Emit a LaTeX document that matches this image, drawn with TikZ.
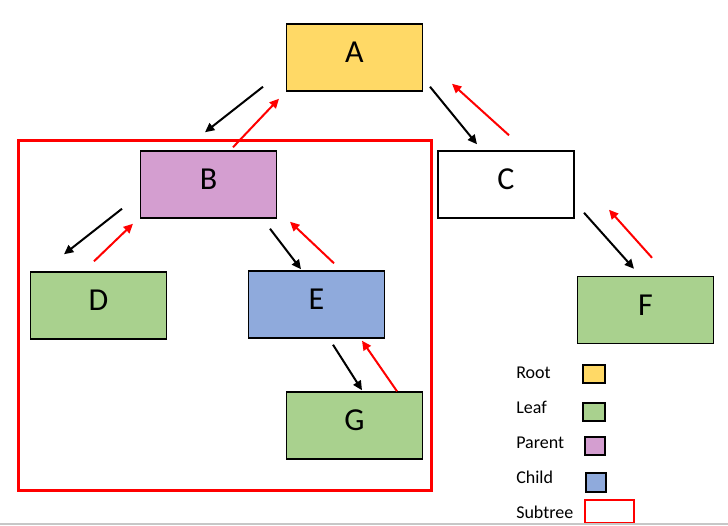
\documentclass[tikz,border=0pt]{standalone}
\usepackage{fontspec}
\setmainfont{Carlito}
\usetikzlibrary{calc}
\usetikzlibrary{arrows.meta}
\definecolor{rootyellow}{HTML}{FFD966}
\definecolor{leafgreen}{HTML}{A9D18E}
\definecolor{parentpink}{HTML}{D49ED0}
\definecolor{childblue}{HTML}{8FAADC}
\definecolor{subred}{HTML}{FF0000}
\tikzset{
    down/.style={line width=1.5pt, -{Triangle[length=7pt, width=6.5pt]}},
    up/.style={down, subred},
}

\begin{document}
\begin{tikzpicture}[x=0.75pt, y=-0.75pt]
        \useasboundingbox (0,0) rectangle (728,525);
        \begin{scope}[every node/.style={draw, line width=1.1pt, minimum width=102pt, minimum height=50.25pt,
                inner sep=0, text height=12pt, text depth=4pt, font=\fontsize{24}{28}\selectfont}]
            \node[fill=rootyellow] (A) at (354.5,57.5) {A};
            \node[fill=parentpink] (B) at (208.5,184.5) {B};
            \node[fill=white]      (C) at (506,184.5) {C};
            \node[fill=leafgreen]  (D) at (98.5,305.5) {D};
            \node[fill=childblue]  (E) at (316.5,304.5) {E};
            \node[fill=leafgreen]  (F) at (645.5,310) {F};
            \node[fill=leafgreen]  (G) at (354.5,425.5) {G};
        \end{scope}
        \node[draw=subred, line width=2.25pt, minimum width=309.75pt, minimum height=262.5pt]
            (subtree) at (225,315.5) {};
        \draw[down]
            ($(A.south)+(-91.5,-5)$) -- ($(B.north)+(-3.5,-18)$);
        \draw[up]
            ($(B.north)+(24.5,-3)$) -- ($(A.south)+(-75.5,7)$);
        \draw[down]
            ($(A.south)+(75.5,-5)$) -- ($(C.north)+(-29,-6)$);
        \draw[up]
            ($(C.north)+(3,-15)$) -- ($(A.south)+(97.5,-8)$);
        \draw[down]
            ($(B.south)+(-86.5,-10)$) -- ($(D.north)+(-34.5,-17)$);
        \draw[up]
            ($(D.north)+(-4.5,-10)$) -- ($(B.south)+(-75.5,5)$);
        \draw[down]
            ($(B.south)+(61.5,10)$) -- ($(E.north)+(-15.5,-1)$);
        \draw[up]
            ($(E.north)+(17.5,-7)$) -- ($(B.south)+(81.5,3)$);
        \draw[down]
            ($(E.south)+(16.5,6)$) -- ($(G.north)+(7.5,-1)$);
        \draw[up]
            ($(G.north)+(42.5,0)$) -- ($(E.south)+(45.5,2)$);
        \draw[down]
            ($(C.south)+(78,-6)$) -- ($(F.north)+(-11.5,-7)$);
        \draw[up]
            ($(F.north)+(6.5,-18)$) -- ($(C.south)+(103,-9)$);
        % legend
        \begin{scope}[every node/.style={anchor=base west, inner sep=0, font=\fontsize{13.5}{16}\selectfont}]
            \node (rootlabel)    at (516,378) {Root};
            \node (leaflabel)    at (516,413) {Leaf};
            \node (parentlabel)  at (516,448) {Parent};
            \node (childlabel)   at (516,483) {Child};
            \node (subtreelabel) at (516,518) {Subtree};
        \end{scope}
        \begin{scope}[every node/.style={draw, line width=1.1pt, inner sep=0}]
            \node[fill=rootyellow, minimum width=16.5pt, minimum height=13.5pt] (rootkey) at (594,374) {};
            \node[fill=leafgreen, minimum width=16.5pt, minimum height=13.5pt] (leafkey) at (594,412) {};
            \node[fill=parentpink, minimum width=15pt, minimum height=13.5pt] (parentkey) at (595,446) {};
            \node[fill=childblue, minimum width=15pt, minimum height=14.25pt] (childkey) at (596,482.5) {};
            \node[draw=subred, line width=1.5pt, minimum width=36.75pt, minimum height=17.25pt] (subtreekey) at (609.5,511.5) {};
        \end{scope}
        \draw[black!22, line width=0.9pt] (0,524) -- (728,524);
\end{tikzpicture}
\end{document}
